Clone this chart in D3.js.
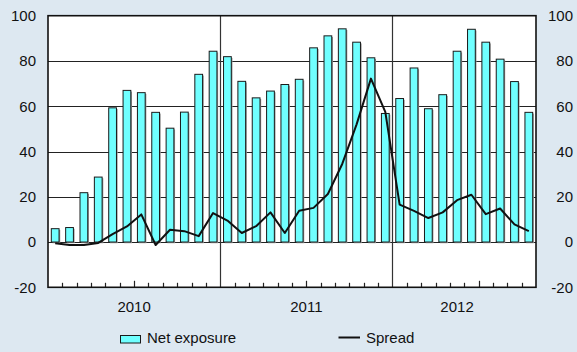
<!DOCTYPE html>
<html>
<head>
<meta charset="utf-8">
<script src="https://cdn.jsdelivr.net/npm/d3@7"></script>
<style>
  html, body { margin: 0; padding: 0; background: #dde8f1; }
  svg { display: block; }
  text { font-family: "Liberation Sans", Arial, Helvetica, sans-serif; fill: #111; }
</style>
</head>
<body>
<svg id="chart" width="577" height="352"></svg>
<script>
// Monthly observations, Jan 2010 – Oct 2012
const months = [
  "2010-01","2010-02","2010-03","2010-04","2010-05","2010-06",
  "2010-07","2010-08","2010-09","2010-10","2010-11","2010-12",
  "2011-01","2011-02","2011-03","2011-04","2011-05","2011-06",
  "2011-07","2011-08","2011-09","2011-10","2011-11","2011-12",
  "2012-01","2012-02","2012-03","2012-04","2012-05","2012-06",
  "2012-07","2012-08","2012-09","2012-10"
];

const netExposure = [
  5.9, 6.4, 21.8, 28.7, 59.3, 67.0, 66.0, 57.3, 50.3, 57.4, 74.1, 84.3,
  81.9, 71.0, 63.7, 66.7, 69.6, 71.9, 85.8, 91.1, 94.2, 88.3, 81.4, 56.8,
  63.4, 76.9, 58.9, 65.1, 84.3, 94.0, 88.3, 80.8, 70.9, 57.3
];

const spread = [
  -0.5, -1.3, -1.3, -0.4, 3.5, 6.9, 12.2, -1.3, 5.4, 4.8, 2.6, 12.8,
  9.5, 4.0, 7.0, 13.1, 4.0, 13.8, 15.1, 21.2, 34.5, 52.0, 72.2, 57.5,
  16.5, 13.8, 10.6, 13.1, 18.5, 20.9, 12.3, 14.8, 7.8, 4.8
];

const yTicks = [-20, 0, 20, 40, 60, 80, 100];
const gridValues = [0, 20, 40, 60, 80];
const yearLabels = ["2010", "2011", "2012"];
const yearLabelAt = [6, 18, 28.5];       // month-index anchor for each year label
const yearStarts = [12, 24];             // month index where a new year begins
const seriesNames = ["Net exposure", "Spread"];

const svg = d3.select("#chart");
const plotL = 48, plotR = 536, plotT = 15.7, plotB = 287.3;

const y = d3.scaleLinear().domain([-20, 100]).range([plotB, plotT]);
const x = d3.scaleBand().domain(months).range([plotL, plotR])
  .paddingInner(0.46).paddingOuter(0.23);
const xi = d3.scaleLinear().domain([0, months.length]).range([plotL, plotR]);

// plot area
svg.append("rect")
  .attr("x", plotL).attr("y", plotT)
  .attr("width", plotR - plotL).attr("height", plotB - plotT)
  .attr("fill", "#fff");

// horizontal grid
svg.append("g").selectAll("line").data(gridValues).join("line")
  .attr("x1", plotL).attr("x2", plotR)
  .attr("y1", d => Math.round(y(d)) + 0.5).attr("y2", d => Math.round(y(d)) + 0.5)
  .attr("stroke", "#222").attr("stroke-width", 1);

// year dividers
svg.append("g").selectAll("line").data(yearStarts).join("line")
  .attr("x1", d => Math.round(xi(d)) + 0.5).attr("x2", d => Math.round(xi(d)) + 0.5)
  .attr("y1", plotT).attr("y2", plotB)
  .attr("stroke", "#333").attr("stroke-width", 1.2);

// bars with a soft drop shadow
const bars = svg.append("g");
bars.selectAll("rect.shadow").data(netExposure).join("rect")
  .attr("class", "shadow")
  .attr("x", (d, i) => x(months[i]) + 1.2)
  .attr("y", d => y(d) + 1.2)
  .attr("width", x.bandwidth())
  .attr("height", d => y(0) - y(d))
  .attr("fill", "#9a9a9a");
bars.selectAll("rect.bar").data(netExposure).join("rect")
  .attr("class", "bar")
  .attr("x", (d, i) => x(months[i]))
  .attr("y", d => y(d))
  .attr("width", x.bandwidth())
  .attr("height", d => y(0) - y(d))
  .attr("fill", "#70ffff")
  .attr("stroke", "#1a1a1a")
  .attr("stroke-width", 1);

// spread line
const line = d3.line()
  .x((d, i) => x(months[i]) + x.bandwidth() / 2)
  .y(d => y(d));
svg.append("path")
  .datum(spread)
  .attr("d", line)
  .attr("fill", "none")
  .attr("stroke", "#111")
  .attr("stroke-width", 2)
  .attr("stroke-linejoin", "round");

// month ticks along the bottom edge (longer at mid-year)
const tickIdx = d3.range(1, months.length);
svg.append("g").selectAll("line").data(tickIdx.filter(i => i % 12 !== 0)).join("line")
  .attr("x1", i => Math.round(xi(i)) + 0.5).attr("x2", i => Math.round(xi(i)) + 0.5)
  .attr("y1", plotB).attr("y2", i => plotB - (i % 12 === 6 ? 6.5 : 4.5))
  .attr("stroke", "#222").attr("stroke-width", 1.2);

// frame
svg.append("rect")
  .attr("x", plotL).attr("y", plotT)
  .attr("width", plotR - plotL).attr("height", plotB - plotT)
  .attr("fill", "none").attr("stroke", "#111").attr("stroke-width", 1.6);

// y labels, both sides
const yl = svg.append("g").attr("font-size", 15);
yl.selectAll("text.l").data(yTicks).join("text")
  .attr("class", "l")
  .attr("x", 36).attr("y", d => y(d)).attr("dy", "0.36em")
  .attr("text-anchor", "end").text(d => d);
yl.selectAll("text.r").data(yTicks).join("text")
  .attr("class", "r")
  .attr("x", 573).attr("y", d => y(d)).attr("dy", "0.36em")
  .attr("text-anchor", "end").text(d => d);

// year labels
svg.append("g").selectAll("text").data(yearLabels).join("text")
  .attr("x", (d, i) => xi(yearLabelAt[i]))
  .attr("y", 311.5)
  .attr("text-anchor", "middle")
  .attr("font-size", 15)
  .text(d => d);

// legend
const lg = svg.append("g").attr("font-size", 15);
lg.append("rect").attr("x", 120.5).attr("y", 335.5).attr("width", 20).attr("height", 7.5)
  .attr("fill", "#70ffff").attr("stroke", "#1a1a1a").attr("stroke-width", 1);
lg.append("text").attr("x", 147).attr("y", 343.3).text(seriesNames[0]);
lg.append("line").attr("x1", 338.5).attr("x2", 360).attr("y1", 337.5).attr("y2", 337.5)
  .attr("stroke", "#111").attr("stroke-width", 2);
lg.append("text").attr("x", 366).attr("y", 343.3).text(seriesNames[1]);
</script>
</body>
</html>
